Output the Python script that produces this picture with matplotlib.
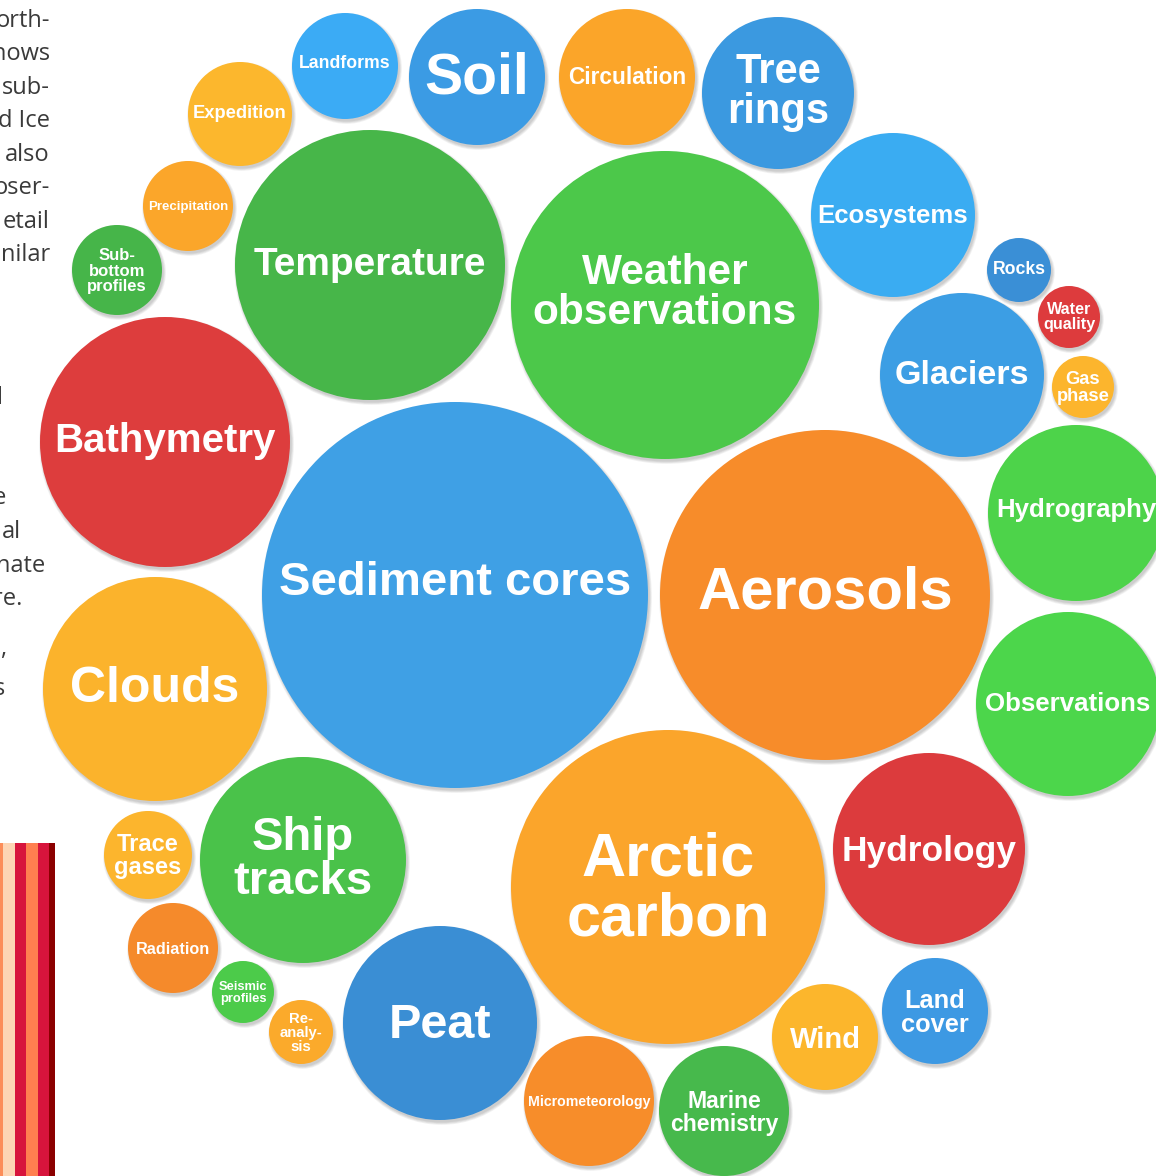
import matplotlib.pyplot as plt
from matplotlib.patches import Circle, Rectangle

# topic bubbles: label, centre (px), radius (px), colour, label size (pt)
labels = [
    "Sediment cores", "Aerosols", "Arctic\ncarbon", "Weather\nobservations",
    "Temperature", "Bathymetry", "Clouds", "Ship\ntracks", "Peat", "Hydrology",
    "Observations", "Hydrography", "Glaciers", "Ecosystems", "Tree\nrings",
    "Soil", "Circulation", "Landforms", "Expedition", "Precipitation",
    "Sub-\nbottom\nprofiles", "Rocks", "Water\nquality", "Gas\nphase",
    "Trace\ngases", "Radiation", "Seismic\nprofiles", "Re-\nanaly-\nsis",
    "Micrometeorology", "Marine\nchemistry", "Wind", "Land\ncover",
]
radius = [193, 165, 157, 154, 135, 125, 112, 103, 97, 96, 92, 88, 82, 82, 76,
          68, 68, 53, 52, 45, 45, 32, 31, 31, 44, 45, 31, 32, 65, 65, 53, 53]
cx = [455, 825, 668, 665, 370, 165, 155, 303, 440, 929, 1068, 1076, 962, 893,
      778, 477, 627, 345, 240, 188, 117, 1019, 1069, 1083, 148, 173, 243, 301,
      589, 724, 825, 935]
cy = [595, 595, 887, 305, 265, 442, 689, 860, 1023, 849, 704, 513, 375, 215,
      93, 77, 77, 66, 114, 206, 270, 270, 317, 387, 855, 948, 992, 1032, 1101,
      1111, 1037, 1011]
label_dy = [-12, -2, 3, -12, 0, -1, 0, 0, 3, 2, 0, -3, 1, 1, -1,
            2, 0, -2, -1, 1, 1, 0, 0, 1, 1, 1, 1, 1, 1, 2, 3, 2]
colors = [
    "#3FA0E5", "#F78C2A", "#FBA52B", "#4CC84A", "#47B649", "#DD3D3D", "#FBB32C",
    "#4AC24A", "#3A8ED4", "#DC3B3D", "#4CD64B", "#4DD34A", "#3C9EE4", "#3AACF2",
    "#3B99E0", "#3B9BE4", "#FBA529", "#3BABF5", "#FCB72D", "#FBA62A", "#46B549",
    "#3A8FD6", "#DD3B3D", "#FCB52D", "#FCB52D", "#F58A2B", "#4CCB4A", "#FBAA2B",
    "#F78D2A", "#47B94C", "#FCB62C", "#3D99E3",
]
font_pt = [34, 43, 44, 30.5, 28, 29, 36, 34, 35, 25.5, 18.6, 18.5, 24.6, 18.5,
           30, 41, 16.3, 12.7, 13.2, 9.5, 12, 12.7, 11.6, 13.2, 17, 11.7, 9.3,
           10.7, 10.2, 16.6, 21, 18.3]
line_sp = [1.0, 1.0, 1.08, 1.0, 1.0, 1.0, 1.0, 1.0, 1.0, 1.0, 1.0, 1.0, 1.0,
           1.0, 1.02, 1.0, 1.0, 1.0, 1.0, 1.0, 1.0, 1.0, 1.0, 1.0, 1.0, 1.0,
           1.0, 1.0, 1.0, 1.0, 1.0, 1.0]

# cut-off column of body text on the left edge
side_text = ["orth-", "hows", "sub-", "d Ice", "also", "oser-", "etail", "nilar",
             "l", "e", "al", "nate", "re.", ",", "s"]
side_y = [21, 54, 88, 121, 155, 188, 222, 255, 398, 498, 532, 566, 599, 649, 689]
side_xend = [50, 50, 50, 50, 50, 50, 50, 50, 3, 6, 21, 45, 22, 6, 5]

# stripes strip in the lower-left corner
stripe_left = [0, 3, 15, 26, 38, 49]
stripe_width = [3, 12, 11, 12, 11, 6]
stripe_colors = ["#FC8D59", "#FDD5B4", "#D7143C", "#FF7F50", "#D7143C", "#8B0000"]

W, H = 1156, 1176
fig = plt.figure(figsize=(W / 100, H / 100), dpi=100)
ax = fig.add_axes([0, 0, 1, 1])
ax.set_xlim(0, W)
ax.set_ylim(H, 0)
ax.axis("off")

for left, w, c in zip(stripe_left, stripe_width, stripe_colors):
    ax.add_patch(Rectangle((left, 843), w, H - 843, color=c, lw=0))

for t, y, xe in zip(side_text, side_y, side_xend):
    ax.text(xe, y, t, ha="right", va="center", fontsize=17,
            family="Open Sans", color="#3a3a3a")

# soft drop shadows first, so they never cover a neighbouring bubble
for x, y, r in zip(cx, cy, radius):
    for k in range(4):
        ax.add_patch(Circle((x + 1.5, y + 2.5), r + 0.8 * k, color="black",
                            alpha=0.05, lw=0))

for x, y, r, c in zip(cx, cy, radius, colors):
    ax.add_patch(Circle((x, y), r, color=c, lw=0))

for lab, x, y, dy, fs, ls in zip(labels, cx, cy, label_dy, font_pt, line_sp):
    ax.text(x, y + dy, lab, ha="center", va="center", fontsize=fs,
            family="Liberation Sans", weight="bold", color="white",
            linespacing=ls)

fig.savefig("out.png", dpi=100, facecolor="white")
